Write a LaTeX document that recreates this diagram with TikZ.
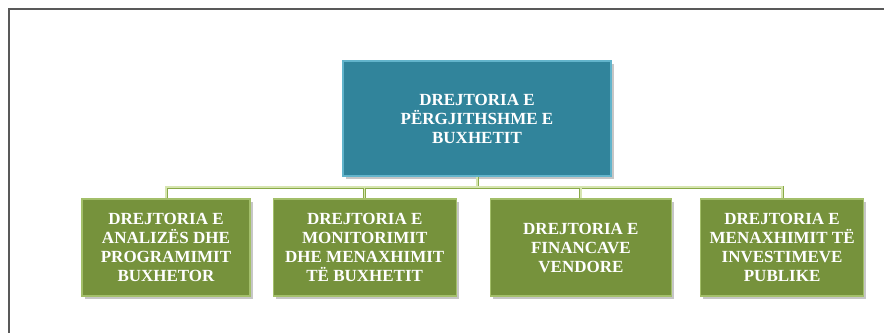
\documentclass[tikz,border=0pt]{standalone}
\usepackage{fontspec}
\setmainfont{Liberation Serif}
\usetikzlibrary{positioning, shadows}
\definecolor{tealbox}{HTML}{31849B}
\definecolor{tealedge}{HTML}{62B4CB}
\definecolor{olivebox}{HTML}{76923C}
\definecolor{oliveedge}{HTML}{A3BF6A}
\definecolor{linkedge}{HTML}{8AAA48}
\definecolor{linkfill}{HTML}{D6E5B0}

\begin{document}
\begin{tikzpicture}[x=1pt,y=-1pt,boxstyle/.style={
	draw,rectangle,align=center,text=white,line width=1.2pt,
	font=\fontsize{17}{19}\selectfont\bfseries,
	drop shadow={shadow xshift=2.5pt,shadow yshift=-2.5pt,opacity=0.45}
},dirstyle/.style={boxstyle,fill=olivebox,draw=oliveedge,minimum height=97pt},
linkstyle/.style={draw=linkfill,line width=1.3pt,
	preaction={draw=linkedge,line width=3pt}}]
	\useasboundingbox (0,0) rectangle (884,333);
	\draw[black!65,line width=1.2pt] (884,9) -- (9,9) -- (9,333);

	\node[boxstyle,fill=tealbox,draw=tealedge,minimum width=268pt,minimum height=115pt] at (477,118.5) (dp) {DREJTORIA E\\PËRGJITHSHME E\\BUXHETIT};

	\node[dirstyle,minimum width=168pt] at (166,247.5) (dr1) {DREJTORIA E\\ANALIZËS DHE\\PROGRAMIMIT\\BUXHETOR};
	\node[dirstyle,minimum width=183pt,right=22pt of dr1] (dr2) {DREJTORIA E\\MONITORIMIT\\DHE MENAXHIMIT\\TË BUXHETIT};
	\node[dirstyle,minimum width=181pt,right=33pt of dr2] (dr3) {DREJTORIA E\\FINANCAVE\\VENDORE};
	\node[dirstyle,minimum width=163pt,right=28pt of dr3] (dr4) {DREJTORIA E\\MENAXHIMIT TË\\INVESTIMEVE\\PUBLIKE};

	\coordinate (bus) at (477,187);
	\draw[linkstyle] (dp.south) -- (bus) (dr1.north) |- (bus) -| (dr4.north)
		(dr2.north) -- (dr2.north |- bus) (dr3.north) -- (dr3.north |- bus);
\end{tikzpicture}
\end{document}
